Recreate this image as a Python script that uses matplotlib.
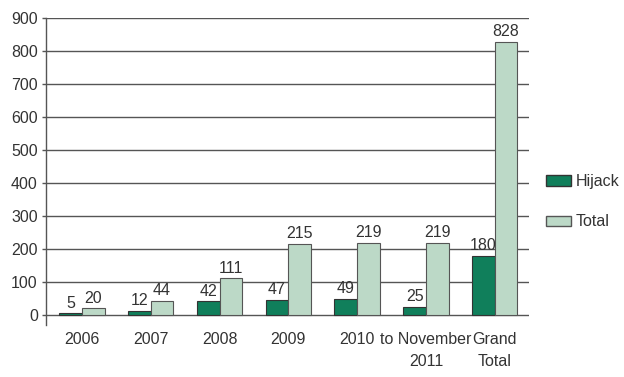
import matplotlib
matplotlib.use("Agg")
import matplotlib.pyplot as plt
import numpy as np
from matplotlib.patches import Patch

categories = ["2006", "2007", "2008", "2009", "2010", "to November\n2011", "Grand\nTotal"]
hijack = [5, 12, 42, 47, 49, 25, 180]
total = [20, 44, 111, 215, 219, 219, 828]
yticks = [0, 100, 200, 300, 400, 500, 600, 700, 800, 900]

plt.rcParams['font.family'] = ['Liberation Sans', 'DejaVu Sans']
text_color = '#333333'
c_hijack = '#107f5b'
c_total = '#bcd9c7'
fs = 11.5

fig = plt.figure(figsize=(6.24, 3.77), dpi=100)
ax = fig.add_axes([0.074, 0.138, 0.774, 0.814])

x = np.arange(len(categories))
w = 0.33
ax.bar(x - w/2, hijack, w, color=c_hijack, edgecolor='#333333', linewidth=0.8, zorder=3)
ax.bar(x + w/2, total, w, color=c_total, edgecolor='#555555', linewidth=0.8, zorder=3)

for xi, v in zip(x, hijack):
    ax.text(xi - w/2, v + 8, str(v), ha='center', va='bottom', fontsize=fs, color=text_color)
for xi, v in zip(x, total):
    ax.text(xi + w/2, v + 8, str(v), ha='center', va='bottom', fontsize=fs, color=text_color)

ax.set_ylim(-30, 900)
ax.set_xlim(-0.52, 6.5)
ax.set_yticks(yticks)
ax.set_yticklabels([str(t) for t in yticks], fontsize=fs, color=text_color)
for t in yticks:
    ax.axhline(t, color='#555555', linewidth=1.0, zorder=1)

ax.set_xticks(x)
ax.set_xticklabels(categories, fontsize=fs, color=text_color, linespacing=1.55)
ax.tick_params(axis='x', length=0, pad=5)
ax.tick_params(axis='y', length=3, width=1.0, color='#555555', pad=3)

for s in ['top', 'right', 'bottom']:
    ax.spines[s].set_visible(False)
ax.spines['left'].set_color('#555555')
ax.spines['left'].set_linewidth(1.0)

handles = [Patch(facecolor=c_hijack, edgecolor='#333333', label='Hijack'),
           Patch(facecolor=c_total, edgecolor='#555555', label='Total')]
fig.legend(handles=handles, loc='center left', bbox_to_anchor=(0.875, 0.465),
           frameon=False, fontsize=fs, labelspacing=1.6, handlelength=1.55,
           handleheight=0.65, handletextpad=0.3, borderpad=0, borderaxespad=0,
           labelcolor=text_color)

fig.savefig("out.png", dpi=100)
